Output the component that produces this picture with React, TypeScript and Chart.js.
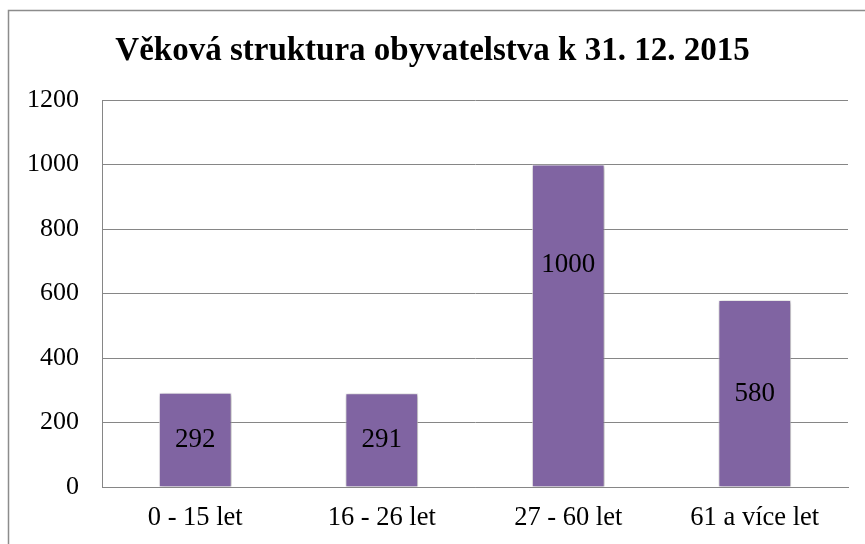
import React, { useEffect, useRef } from "react";
import { Chart, registerables } from "chart.js";

Chart.register(...registerables);

const chartTitle = "Věková struktura obyvatelstva k 31. 12. 2015";
const categories = ["0 - 15 let", "16 - 26 let", "27 - 60 let", "61 a více let"];
const population = [292, 291, 1000, 580];
const yTicks = [0, 200, 400, 600, 800, 1000, 1200];

const W = 865;
const H = 544;
const FONT = "'Liberation Serif', 'Times New Roman', serif";
const GRID = "#868686";
const BAR = "#8064A2";

const frame = {
  id: "frame",
  beforeDraw(chart: any) {
    const ctx = chart.ctx;
    ctx.save();
    ctx.fillStyle = "#ffffff";
    ctx.fillRect(0, 0, chart.width, chart.height);
    ctx.strokeStyle = "#8c8c8c";
    ctx.lineWidth = 1.5;
    ctx.beginPath();
    ctx.moveTo(8.5, chart.height + 2);
    ctx.lineTo(8.5, 10.5);
    ctx.lineTo(chart.width + 2, 10.5);
    ctx.stroke();
    ctx.restore();
  },
};

const titleText = {
  id: "titleText",
  afterDraw(chart: any, _args: any, opts: any) {
    const ctx = chart.ctx;
    ctx.save();
    ctx.fillStyle = "#000";
    ctx.font = `bold 33px ${FONT}`;
    ctx.textAlign = "center";
    ctx.textBaseline = "alphabetic";
    ctx.fillText(opts.text, chart.width / 2, 60);
    ctx.restore();
  },
};

const barShadow = {
  id: "barShadow",
  beforeDatasetsDraw(chart: any) {
    const ctx = chart.ctx;
    ctx.save();
    ctx.shadowColor = "rgba(0,0,0,0.35)";
    ctx.shadowBlur = 4;
    ctx.shadowOffsetX = 1;
    ctx.shadowOffsetY = 1;
  },
  afterDatasetsDraw(chart: any) {
    chart.ctx.restore();
  },
};

const valueLabels = {
  id: "valueLabels",
  afterDatasetsDraw(chart: any, _args: any, opts: any) {
    const ctx = chart.ctx;
    const meta = chart.getDatasetMeta(0);
    const yScale = chart.scales.y;
    const data = chart.data.datasets[0].data as number[];
    ctx.save();
    ctx.fillStyle = "#000";
    ctx.font = `27px ${FONT}`;
    ctx.textAlign = "center";
    ctx.textBaseline = "middle";
    meta.data.forEach((bar: any, i: number) => {
      const v = data[i];
      const anchor = opts.anchorValue[i] ?? v / 2;
      const y = yScale.getPixelForValue(anchor);
      ctx.fillText(String(v), bar.x, y);
    });
    ctx.restore();
  },
};

export default function App() {
  const ref = useRef<HTMLCanvasElement>(null);
  useEffect(() => {
    if (!ref.current) return;
    const chart = new Chart(ref.current, {
      type: "bar",
      data: {
        labels: categories,
        datasets: [
          {
            data: population,
            backgroundColor: BAR,
            borderColor: "rgba(255,255,255,0.7)",
            borderWidth: 1,
            barPercentage: 0.39,
            categoryPercentage: 1,
          },
        ],
      },
      plugins: [frame, barShadow, valueLabels, titleText],
      options: {
        responsive: false,
        animation: false,
        devicePixelRatio: 1,
        layout: { padding: { left: 0, right: 17, top: 100, bottom: 0 } },
        plugins: {
          legend: { display: false },
          tooltip: { enabled: false },
          title: { display: false },
          titleText: { text: chartTitle },
          valueLabels: { anchorValue: [null, null, 690, null] },
        } as any,
        scales: {
          x: {
            grid: { display: false, drawTicks: false },
            border: { display: true, color: GRID, width: 1 },
            ticks: { color: "#000", font: { family: FONT, size: 26.5 }, padding: 15 },
            afterFit(scale: any) {
              scale.height = 57;
            },
          },
          y: {
            min: 0,
            max: 1200,
            afterBuildTicks(scale: any) {
              scale.ticks = yTicks.map((v) => ({ value: v }));
            },
            grid: { color: GRID, lineWidth: 1, drawTicks: false },
            border: { display: true, color: GRID, width: 1 },
            ticks: {
              color: "#000",
              font: { family: FONT, size: 26 },
              padding: 23,
              callback: (v: any) => String(v),
            },
            afterFit(scale: any) {
              scale.width = 102;
            },
          },
        },
      },
    });
    return () => chart.destroy();
  }, []);
  return (
    <div style={{ position: "fixed", left: 0, top: 0, width: W, height: H }}>
      <canvas ref={ref} width={W} height={H} style={{ width: W, height: H, display: "block" }} />
    </div>
  );
}
